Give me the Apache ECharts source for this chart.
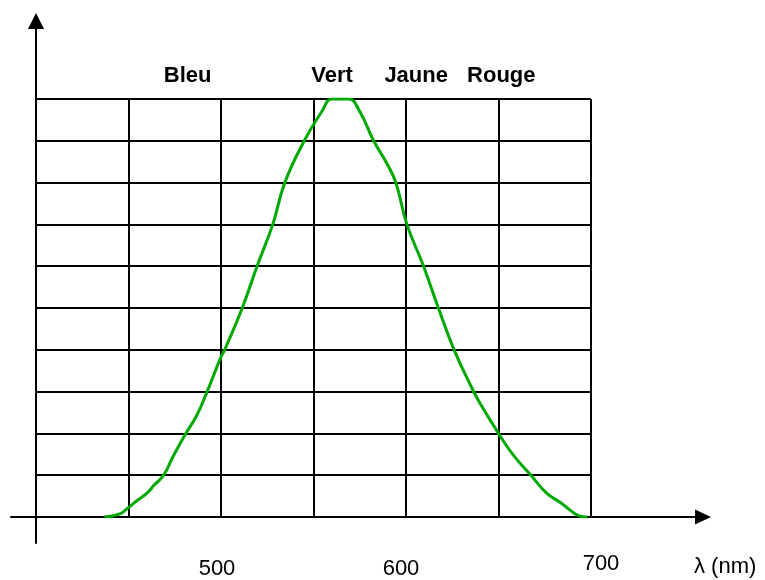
<!DOCTYPE html>
<html>
<head>
<meta charset="utf-8">
<script src="https://cdn.jsdelivr.net/npm/echarts@6/dist/echarts.min.js"></script>
<style>
html,body{margin:0;padding:0;background:#fff;}
#chart{width:765px;height:580px;}
</style>
</head>
<body>
<div id="chart"></div>
<script>
// Wavelengths (nm) and relative sensitivity
const wavelengths = [437, 445, 449, 454, 460, 464, 469, 474, 480.5, 487, 492.5, 500, 502, 511.5, 519.5, 528, 534.5, 545, 554.5, 560, 569, 575, 582.5, 589.5, 594.5, 600.5, 609.5, 617.5, 626, 636, 640, 650, 658, 667.5, 676, 684, 688.5, 694, 698];
const sensitivity = [0, 0.007, 0.019, 0.037, 0.057, 0.077, 0.1, 0.144, 0.196, 0.244, 0.3, 0.383, 0.4, 0.5, 0.6, 0.7, 0.8, 0.9, 0.97, 1.0, 1.0, 0.97, 0.9, 0.847, 0.8, 0.7, 0.6, 0.5, 0.4, 0.305, 0.272, 0.2, 0.148, 0.1, 0.057, 0.033, 0.017, 0.002, 0];

// Colour names shown above the grid
const bandNames = ['Bleu', 'Vert', 'Jaune', 'Rouge'];
const bandWavelengths = [482, 560, 605.5, 651.5];
const bandLabelLevel = 1.055;

// Axis tick labels shown
const shownTicks = [500, 600, 700];
const xAxisTitle = 'λ (nm)';

const FONT = '"Liberation Sans", Arial, sans-serif';

const chart = echarts.init(document.getElementById('chart'), null, {renderer: 'canvas'});
chart.setOption({
  backgroundColor: '#fff',
  animation: false,
  grid: [
    {left: 36, top: 99, right: 174, bottom: 63},
    {left: 11, top: 21, right: 62, bottom: 37}
  ],
  xAxis: [
    {
      gridIndex: 0, type: 'value', min: 400, max: 700, interval: 50,
      axisLine: {show: false}, axisTick: {show: false},
      splitLine: {show: true, lineStyle: {color: '#000', width: 2}},
      axisLabel: {
        show: true, margin: 41, color: '#000', fontFamily: FONT, fontSize: 22,
        formatter: function (v) {
          if (shownTicks.indexOf(v) < 0) return '';
          if (v === 500) return '{l|' + v + '}';
          if (v === 700) return '{r|' + v + '}';
          return '{m|' + v + '}';
        },
        rich: {
          l: {fontSize: 22, fontFamily: FONT, color: '#000', padding: [0, 8, 0, 0]},
          m: {fontSize: 22, fontFamily: FONT, color: '#000', padding: [0, 10, 0, 0]},
          r: {fontSize: 22, fontFamily: FONT, color: '#000', padding: [0, 0, 0, 20], verticalAlign: 'bottom', lineHeight: 17}
        }
      }
    },
    {
      gridIndex: 1, type: 'value', min: -25, max: 667,
      axisLine: {show: true, onZero: true, symbol: ['none', 'triangle'], symbolSize: [15, 16],
        lineStyle: {color: '#000', width: 2}},
      axisTick: {show: false}, axisLabel: {show: false}, splitLine: {show: false}
    }
  ],
  yAxis: [
    {
      gridIndex: 0, type: 'value', min: 0, max: 1, interval: 0.1,
      axisLine: {show: false}, axisTick: {show: false}, axisLabel: {show: false},
      splitLine: {show: true, lineStyle: {color: '#000', width: 2}}
    },
    {
      gridIndex: 1, type: 'value', min: -26, max: 496,
      axisLine: {show: true, onZero: true, symbol: ['none', 'triangle'], symbolSize: [16, 16],
        lineStyle: {color: '#000', width: 2}},
      axisTick: {show: false}, axisLabel: {show: false}, splitLine: {show: false}
    }
  ],
  graphic: [
    {type: 'text', left: 694, top: 556, z: 10,
     style: {text: xAxisTitle, fill: '#000', font: '22px ' + FONT}}
  ],
  series: [
    {
      type: 'line', xAxisIndex: 0, yAxisIndex: 0,
      data: wavelengths.map((w, i) => [w, sensitivity[i]]),
      smooth: 0.45, showSymbol: false, symbol: 'none',
      lineStyle: {color: '#00aa00', width: 3},
      z: 5
    },
    {
      type: 'scatter', xAxisIndex: 0, yAxisIndex: 0, clip: false,
      symbolSize: 0, itemStyle: {opacity: 1},
      data: bandNames.map((n, i) => ({name: n, value: [bandWavelengths[i], bandLabelLevel]})),
      label: {show: true, position: 'inside', formatter: '{b}', color: '#000',
        fontFamily: FONT, fontWeight: 'bold', fontSize: 22},
      z: 6
    }
  ]
});
</script>
</body>
</html>
